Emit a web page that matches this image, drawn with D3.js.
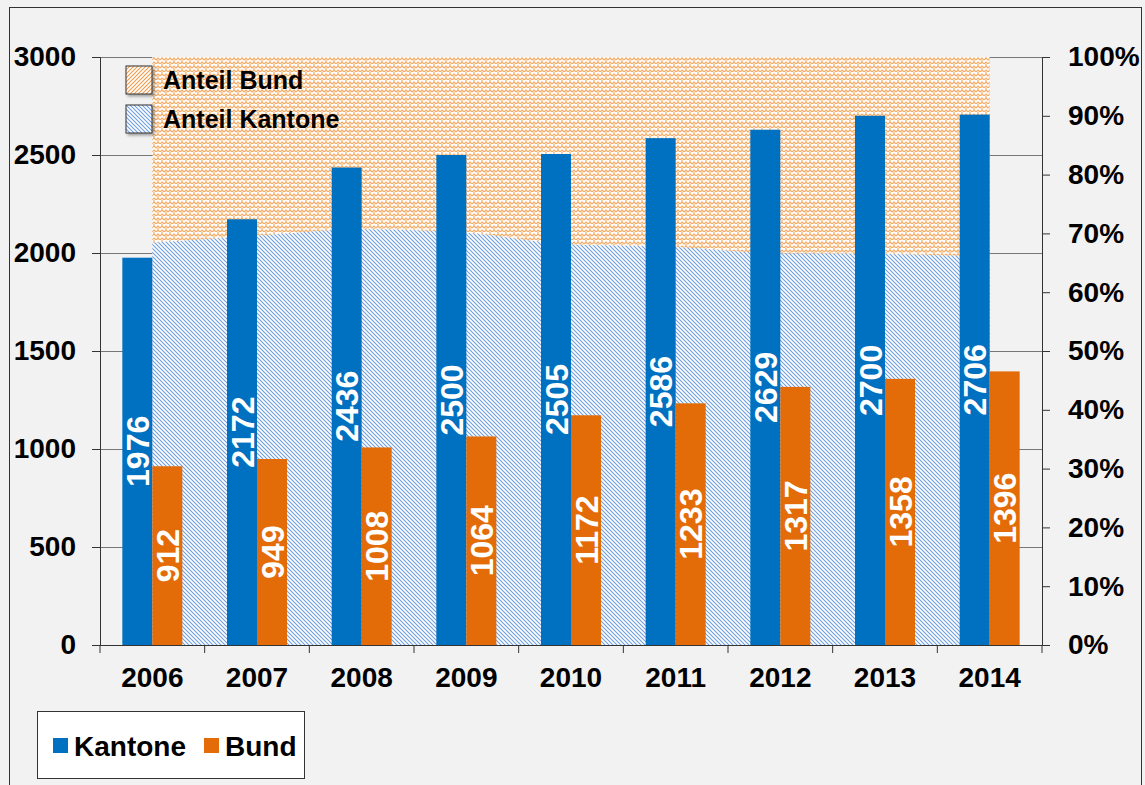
<!DOCTYPE html>
<html>
<head>
<meta charset="utf-8">
<style>
    body { margin: 0; background: #fff; font-family: Arial, 'Liberation Sans', sans-serif; }
    svg { display: block; }
    .lbl { font-weight: bold; }
</style>
</head>
<body>
<svg width="1145" height="785"></svg>
<script src="https://d3js.org/d3.v7.min.js"></script>
<script>
    // data
    let years = ["2006", "2007", "2008", "2009", "2010", "2011", "2012", "2013", "2014"];
    let kantone = [1976, 2172, 2436, 2500, 2505, 2586, 2629, 2700, 2706];
    let bund = [912, 949, 1008, 1064, 1172, 1233, 1317, 1358, 1396];
    // share of Kantone in percent (the area), rest is Bund
    let anteilKantone = [68.4, 69.6, 70.7, 70.1, 68.1, 67.7, 66.6, 66.5, 66.0];
    let leftTicks = [0, 500, 1000, 1500, 2000, 2500, 3000];
    let rightTicks = [0, 10, 20, 30, 40, 50, 60, 70, 80, 90, 100];

    let blue = "#0070c0";
    let orange = "#e36c09";

    let svg = d3.select("svg");
    let mLeft = 100, mRight = 1042, mTop = 57, mBottom = 645;

    // background + frame
    svg.append("rect").attr("x", 0).attr("y", 0).attr("width", 1145).attr("height", 785).style("fill", "#f2f2f2");
    svg.append("rect").attr("x", 9.5).attr("y", 7.5).attr("width", 1132).attr("height", 790)
        .style("fill", "none").style("stroke", "#333").style("stroke-width", 1);

    let defs = svg.append("defs");

    // blue diagonal hatch
    let pBlue = defs.append("pattern").attr("id", "hatchBlue").attr("patternUnits", "userSpaceOnUse")
        .attr("width", 4).attr("height", 4);
    pBlue.append("rect").attr("width", 4).attr("height", 4).style("fill", "#fff");
    pBlue.append("path").attr("d", "M-1,-1 L5,5 M-1,3 L1,5 M3,-1 L5,1")
        .style("stroke", "#6f9fe0").style("stroke-width", 1.1);

    // orange weave-ish pattern
    let pOr = defs.append("pattern").attr("id", "hatchOrange").attr("patternUnits", "userSpaceOnUse")
        .attr("width", 8).attr("height", 8);
    pOr.append("rect").attr("width", 8).attr("height", 8).style("fill", "#fff");
    pOr.append("path").attr("d", "M0,4 L2,2 L4,4 L6,2 L8,4 M0,8 L2,6 L4,8 L6,6 L8,8 M2,2 L2,0 M6,6 L6,4")
        .style("stroke", "#f6a85e").style("stroke-width", 1.2).style("fill", "none");

    // orange diagonal for the legend swatch
    let pOr2 = defs.append("pattern").attr("id", "hatchOrange2").attr("patternUnits", "userSpaceOnUse")
        .attr("width", 4).attr("height", 4);
    pOr2.append("rect").attr("width", 4).attr("height", 4).style("fill", "#fff");
    pOr2.append("path").attr("d", "M-1,5 L5,-1 M-1,1 L1,-1 M3,5 L5,3")
        .style("stroke", "#f39a4a").style("stroke-width", 1.1);

    let shadow = defs.append("filter").attr("id", "shadow").attr("x", "-20%").attr("y", "-20%")
        .attr("width", "150%").attr("height", "150%");
    shadow.append("feDropShadow").attr("dx", 2).attr("dy", 2).attr("stdDeviation", 1.5)
        .attr("flood-color", "#000").attr("flood-opacity", 0.35);

    let x = d3.scaleBand().domain(years).range([mLeft, mRight]);
    let y = d3.scaleLinear().domain([0, 3000]).range([mBottom, mTop]);
    let yPct = d3.scaleLinear().domain([0, 100]).range([mBottom, mTop]);

    // gridlines
    svg.selectAll(".grid")
        .data(leftTicks.slice(1))
        .join("line")
        .attr("x1", mLeft).attr("x2", mRight)
        .attr("y1", d => Math.round(y(d)) + 0.5).attr("y2", d => Math.round(y(d)) + 0.5)
        .style("stroke", "#777").style("stroke-width", 1);

    // area: share Kantone / Bund
    let cx = d => x(d) + x.bandwidth() / 2;
    let areaData = years.map((yr, i) => ({ yr: yr, k: anteilKantone[i] }));

    let areaBund = d3.area()
        .x(d => cx(d.yr))
        .y0(d => yPct(d.k))
        .y1(yPct(100))
        .curve(d3.curveMonotoneX);
    let areaKant = d3.area()
        .x(d => cx(d.yr))
        .y0(yPct(0))
        .y1(d => yPct(d.k))
        .curve(d3.curveMonotoneX);

    svg.append("path").attr("d", areaBund(areaData)).style("fill", "url(#hatchOrange)");
    svg.append("path").attr("d", areaKant(areaData)).style("fill", "url(#hatchBlue)");

    // bars
    let bw = 30;
    svg.selectAll(".kbar")
        .data(years)
        .join("rect")
        .attr("x", (d) => cx(d) - bw)
        .attr("y", (d, i) => y(kantone[i]))
        .attr("width", bw)
        .attr("height", (d, i) => mBottom - y(kantone[i]))
        .style("fill", blue);

    svg.selectAll(".bbar")
        .data(years)
        .join("rect")
        .attr("x", (d) => cx(d))
        .attr("y", (d, i) => y(bund[i]))
        .attr("width", bw)
        .attr("height", (d, i) => mBottom - y(bund[i]))
        .style("fill", orange);

    // value labels, rotated
    function valueLabels(vals, dx) {
        svg.selectAll(null)
            .data(years)
            .join("text")
            .attr("class", "lbl")
            .attr("transform", (d, i) => {
                let px = cx(d) + dx;
                let py = (y(vals[i]) + mBottom) / 2;
                return "translate(" + px + "," + py + ") rotate(-90)";
            })
            .attr("text-anchor", "middle")
            .attr("dy", "0.36em")
            .style("fill", "#fff")
            .style("font-size", "32px")
            .text((d, i) => vals[i]);
    }
    valueLabels(kantone, -bw / 2);
    valueLabels(bund, bw / 2);

    // axes
    let axisColor = "#333";
    let gl = svg.append("g").attr("transform", "translate(" + mLeft + ",0)")
        .call(d3.axisLeft(y).tickValues(leftTicks).tickSize(8).tickPadding(16).tickFormat(d3.format("d")));
    let gr = svg.append("g").attr("transform", "translate(" + mRight + ",0)")
        .call(d3.axisRight(yPct).tickValues(rightTicks).tickSize(8).tickPadding(18).tickFormat(d => d + "%"));
    let gb = svg.append("g").attr("transform", "translate(0," + mBottom + ")")
        .call(d3.axisBottom(x).tickSize(0).tickPadding(22));

    // tick marks on the category boundaries
    svg.selectAll(".xt")
        .data(d3.range(years.length + 1))
        .join("line")
        .attr("x1", i => mLeft + i * x.step()).attr("x2", i => mLeft + i * x.step())
        .attr("y1", mBottom).attr("y2", mBottom + 8)
        .style("stroke", axisColor);

    [gl, gr, gb].forEach(g => {
        g.attr("font-size", null).attr("font-family", null);
        g.selectAll("path").style("stroke", axisColor);
        g.selectAll("line").style("stroke", axisColor);
        g.selectAll("text").attr("class", "lbl").style("font-size", "28px")
            .style("font-family", "Arial, 'Liberation Sans', sans-serif").style("fill", "#000");
    });
    gb.select(".domain").remove();
    svg.append("line").attr("x1", mLeft).attr("x2", mRight).attr("y1", mBottom + 0.5).attr("y2", mBottom + 0.5)
        .style("stroke", axisColor);

    // top legend (areas)
    let areaLegend = [
        { name: "Anteil Bund", fill: "url(#hatchOrange2)", stroke: "#333" },
        { name: "Anteil Kantone", fill: "url(#hatchBlue)", stroke: "#333" }
    ];
    let al = svg.selectAll(".al").data(areaLegend).join("g")
        .attr("transform", (d, i) => "translate(126," + (66 + i * 39) + ")");
    al.append("rect").attr("width", 26).attr("height", 28)
        .style("fill", d => d.fill).style("stroke", d => d.stroke).attr("filter", "url(#shadow)");
    al.append("text").attr("class", "lbl").attr("x", 37).attr("y", 23)
        .style("font-size", "25px").text(d => d.name);

    // bottom legend (bars)
    svg.append("rect").attr("x", 37.5).attr("y", 711.5).attr("width", 267).attr("height", 67)
        .style("fill", "#fff").style("stroke", "#333");
    let barLegend = [
        { name: "Kantone", color: blue, x: 53 },
        { name: "Bund", color: orange, x: 204 }
    ];
    let bl = svg.selectAll(".bl").data(barLegend).join("g")
        .attr("transform", d => "translate(" + d.x + ",738)");
    bl.append("rect").attr("width", 15).attr("height", 15).style("fill", d => d.color);
    bl.append("text").attr("class", "lbl").attr("x", 21).attr("y", 18)
        .style("font-size", "28px").text(d => d.name);
</script>
</body>
</html>
